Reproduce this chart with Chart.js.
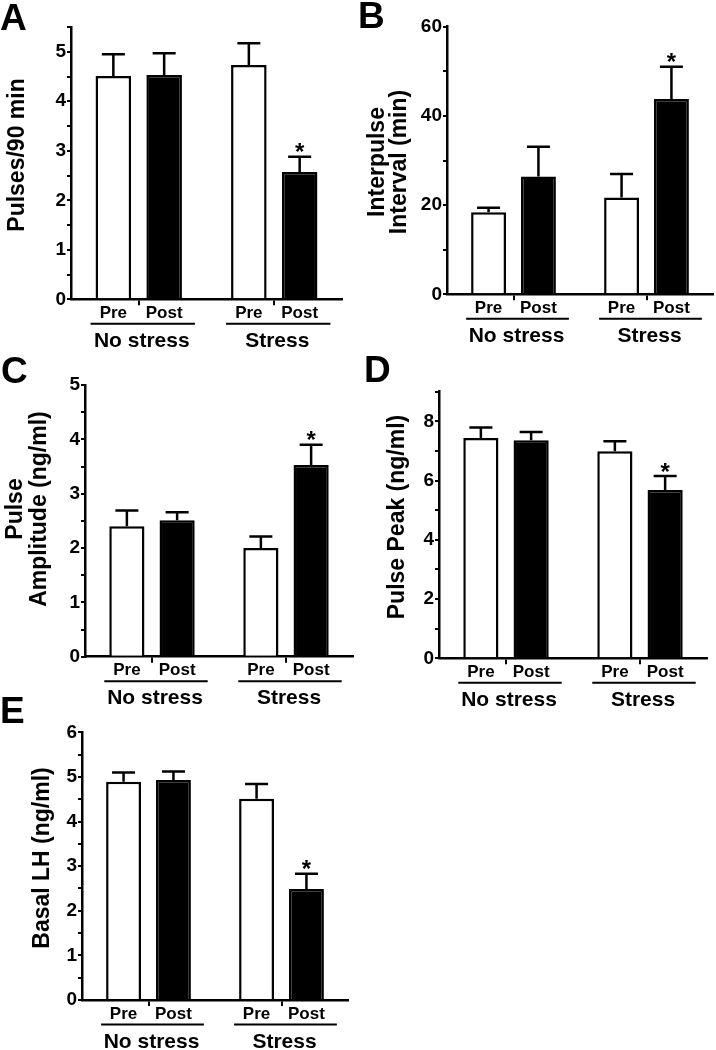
<!DOCTYPE html>
<html>
<head>
<meta charset="utf-8">
<script src="https://cdn.jsdelivr.net/npm/chart.js@4.4.1/dist/chart.umd.min.js"></script>
<style>
  body { margin: 0; background: #fff; }
  #fig { position: relative; width: 716px; height: 1050px; overflow: hidden; background: #fff; }
  #fig canvas { position: absolute; }
</style>
</head>
<body>
<div id="fig">
  <canvas id="chartA" width="358" height="352" style="left:0;top:0"></canvas>
  <canvas id="chartB" width="358" height="352" style="left:358px;top:0"></canvas>
  <canvas id="chartC" width="358" height="370" style="left:0;top:345px"></canvas>
  <canvas id="chartD" width="358" height="370" style="left:358px;top:345px"></canvas>
  <canvas id="chartE" width="358" height="360" style="left:0;top:690px"></canvas>
</div>
<script>
const groups = ['No stress', 'Stress'];
const seriesNames = ['Pre', 'Post'];
const postSignificant = [false, true];

// A - pulses / 90 min
const pulsesPre = [4.51, 4.73];
const pulsesPost = [4.53, 2.57];
const pulsesPreSem = [0.44, 0.44];
const pulsesPostSem = [0.44, 0.31];
const pulsesTicks = [0, 1, 2, 3, 4, 5];

// B - interpulse interval (min)
const intervalPre = [18.4, 21.7];
const intervalPost = [26.4, 43.8];
const intervalPreSem = [1.0, 5.3];
const intervalPostSem = [6.7, 7.2];
const intervalTicks = [0, 20, 40, 60];

// C - pulse amplitude (ng/ml)
const amplitudePre = [2.40, 2.00];
const amplitudePost = [2.51, 3.53];
const amplitudePreSem = [0.29, 0.21];
const amplitudePostSem = [0.15, 0.37];
const amplitudeTicks = [0, 1, 2, 3, 4, 5];

// D - pulse peak (ng/ml)
const peakPre = [7.44, 6.99];
const peakPost = [7.36, 5.68];
const peakPreSem = [0.35, 0.34];
const peakPostSem = [0.28, 0.47];
const peakTicks = [0, 2, 4, 6, 8];

// E - basal LH (ng/ml)
const basalPre = [4.89, 4.51];
const basalPost = [4.93, 2.49];
const basalPreSem = [0.21, 0.33];
const basalPostSem = [0.19, 0.34];
const basalTicks = [0, 1, 2, 3, 4, 5, 6];

const FONT = '"Liberation Sans", Arial, Helvetica, sans-serif';

// page positions of each panel (canvas box + where the axes sit)
const panels = [
  { id: 'chartA', letter: 'A', left: 0, top: 0, w: 358, h: 352,
    axisX: 71, axisTop: 27, axisBottom: 299.3, axisRight: 342,
    title: ['Pulses/90 min'], titleX: [18], titleY: 155, letterX: 0, letterY: 30,
    pre: pulsesPre, post: pulsesPost, preSem: pulsesPreSem, postSem: pulsesPostSem,
    ticks: pulsesTicks, max: 5.5, minor: 0.5 },
  { id: 'chartB', letter: 'B', left: 358, top: 0, w: 358, h: 352,
    axisX: 447, axisTop: 26.7, axisBottom: 294.3, axisRight: 713,
    title: ['Interpulse', 'Interval (min)'], titleX: [378, 400], titleY: 162, letterX: 358, letterY: 28,
    pre: intervalPre, post: intervalPost, preSem: intervalPreSem, postSem: intervalPostSem,
    ticks: intervalTicks, max: 60, minor: 10 },
  { id: 'chartC', letter: 'C', left: 0, top: 345, w: 358, h: 370,
    axisX: 85, axisTop: 385, axisBottom: 656.7, axisRight: 353,
    title: ['Pulse', 'Amplitude (ng/ml)'], titleX: [16, 40], titleY: 509, letterX: 1, letterY: 383,
    pre: amplitudePre, post: amplitudePost, preSem: amplitudePreSem, postSem: amplitudePostSem,
    ticks: amplitudeTicks, max: 5, minor: 0.5 },
  { id: 'chartD', letter: 'D', left: 358, top: 345, w: 358, h: 370,
    axisX: 439, axisTop: 391.7, axisBottom: 658.3, axisRight: 707,
    title: ['Pulse Peak (ng/ml)'], titleX: [398], titleY: 517, letterX: 364, letterY: 382,
    pre: peakPre, post: peakPost, preSem: peakPreSem, postSem: peakPostSem,
    ticks: peakTicks, max: 9, minor: 1 },
  { id: 'chartE', letter: 'E', left: 0, top: 690, w: 358, h: 360,
    axisX: 82, axisTop: 732.3, axisBottom: 1000, axisRight: 348,
    title: ['Basal LH (ng/ml)'], titleX: [43], titleY: 858, letterX: 0, letterY: 723,
    pre: basalPre, post: basalPost, preSem: basalPreSem, postSem: basalPostSem,
    ticks: basalTicks, max: 6, minor: 0.5 }
];

function makePanel(p) {
  const decorations = {
    id: 'decorations',
    afterDatasetsDraw(chart) {
      const ctx = chart.ctx;
      const y = chart.scales.y;
      ctx.save();
      ctx.strokeStyle = '#000';
      ctx.fillStyle = '#000';
      ctx.lineWidth = 2.5;
      chart.data.datasets.forEach((ds, di) => {
        chart.getDatasetMeta(di).data.forEach((bar, i) => {
          const yTop = y.getPixelForValue(ds.data[i] + ds.errors[i]);
          ctx.beginPath();
          ctx.moveTo(bar.x, bar.y);
          ctx.lineTo(bar.x, yTop);
          ctx.moveTo(bar.x - 11.5, yTop);
          ctx.lineTo(bar.x + 11.5, yTop);
          ctx.stroke();
          if (di === 1 && postSignificant[i]) {
            ctx.font = 'bold 24px ' + FONT;
            ctx.textAlign = 'center';
            ctx.textBaseline = 'alphabetic';
            ctx.fillText('*', bar.x, yTop + 3.5);
          }
        });
      });
      ctx.restore();
    },
    afterDraw(chart) {
      const ctx = chart.ctx;
      const x = chart.scales.x;
      const base = p.axisBottom - p.top;
      const preBars = chart.getDatasetMeta(0).data;
      const postBars = chart.getDatasetMeta(1).data;
      ctx.save();
      ctx.fillStyle = '#000';
      ctx.strokeStyle = '#000';
      // Pre / Post under each bar
      ctx.font = 'bold 17px ' + FONT;
      ctx.textAlign = 'center';
      ctx.textBaseline = 'middle';
      [preBars, postBars].forEach((bars, di) => {
        bars.forEach(bar => ctx.fillText(seriesNames[di], bar.x, base + 14));
      });
      // group underline + name
      ctx.lineWidth = 2;
      groups.forEach((g, i) => {
        const x0 = preBars[i].x - preBars[i].width / 2 - 5;
        const x1 = postBars[i].x + postBars[i].width / 2 + 13;
        ctx.beginPath();
        ctx.moveTo(x0, base + 24.5);
        ctx.lineTo(x1, base + 24.5);
        ctx.stroke();
        ctx.font = 'bold 21px ' + FONT;
        ctx.fillText(g, x.getPixelForValue(i) + 3, base + 42);
      });
      // y axis title
      ctx.font = 'bold 23px ' + FONT;
      p.title.forEach((line, k) => {
        ctx.save();
        ctx.translate(p.titleX[k] - p.left, p.titleY - p.top);
        ctx.rotate(-Math.PI / 2);
        ctx.fillText(line, 0, 0);
        ctx.restore();
      });
      // panel letter
      ctx.font = 'bold 37px ' + FONT;
      ctx.textAlign = 'left';
      ctx.textBaseline = 'alphabetic';
      ctx.fillText(p.letter, p.letterX - p.left, p.letterY - p.top);
      ctx.restore();
    }
  };

  const isMajor = v => p.ticks.some(t => Math.abs(t - v) < 1e-6);

  new Chart(document.getElementById(p.id), {
    type: 'bar',
    data: {
      labels: groups,
      datasets: [
        { label: seriesNames[0], data: p.pre, errors: p.preSem,
          backgroundColor: '#fff', borderColor: '#000', borderWidth: 2.5 },
        { label: seriesNames[1], data: p.post, errors: p.postSem,
          backgroundColor: '#000', borderColor: '#000', borderWidth: 2.5 }
      ]
    },
    options: {
      responsive: false,
      animation: false,
      devicePixelRatio: 1,
      categoryPercentage: 0.75,
      barPercentage: 0.7,
      layout: {
        padding: { left: 0, bottom: 0, top: p.axisTop - p.top, right: p.left + p.w - p.axisRight }
      },
      plugins: { legend: { display: false }, tooltip: { enabled: false } },
      scales: {
        x: {
          ticks: { display: false },
          grid: { offset: false, drawOnChartArea: false, drawTicks: true, tickLength: 6, color: '#000', lineWidth: 2 },
          border: { color: '#000', width: 2.5 },
          afterFit: s => { s.height = p.top + p.h - p.axisBottom; }
        },
        y: {
          min: 0,
          max: p.max,
          ticks: {
            stepSize: p.minor,
            autoSkip: false,
            padding: 1,
            color: '#000',
            font: { family: FONT, size: 19, weight: 'bold', lineHeight: 1 },
            callback: v => isMajor(v) ? String(v) : ''
          },
          grid: { drawOnChartArea: false, drawTicks: true, tickLength: 4, color: '#000', lineWidth: 2 },
          border: { color: '#000', width: 2.5 },
          afterFit: s => { s.width = p.axisX - p.left; }
        }
      }
    },
    plugins: [decorations]
  });
}

panels.forEach(makePanel);
</script>
</body>
</html>
